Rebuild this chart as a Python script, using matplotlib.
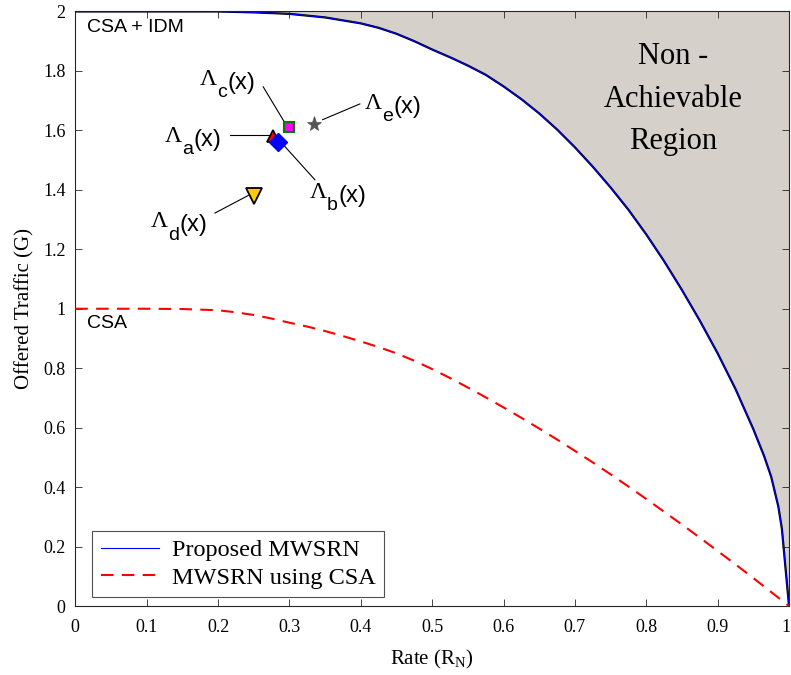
import matplotlib
matplotlib.use("Agg")
import matplotlib.pyplot as plt
from matplotlib.transforms import ScaledTranslation

# ── DATA ────────────────────────────────────────────────────────────────
rate_mwsrn = [0, 0.1, 0.2, 0.25, 0.3, 0.35, 0.4, 0.425, 0.45, 0.475, 0.5,
              0.525, 0.55, 0.575, 0.6, 0.625, 0.65, 0.675, 0.7, 0.725, 0.75,
              0.775, 0.8, 0.825, 0.85, 0.875, 0.9, 0.925, 0.95, 0.965, 0.975,
              0.985, 0.99, 1.0]
traffic_mwsrn = [2.0, 2.0, 2.0, 1.997, 1.992, 1.98, 1.96, 1.945, 1.925, 1.90,
                 1.872, 1.846, 1.818, 1.787, 1.748, 1.705, 1.657, 1.603,
                 1.543, 1.478, 1.408, 1.333, 1.25, 1.16, 1.063, 0.96, 0.85,
                 0.73, 0.595, 0.505, 0.435, 0.335, 0.26, 0.0]

rate_csa = [0, 0.1, 0.15, 0.2, 0.225, 0.25, 0.275, 0.3, 0.325, 0.35, 0.375,
            0.4, 0.425, 0.45, 0.475, 0.5, 0.525, 0.55, 0.575, 0.6, 0.625,
            0.65, 0.675, 0.7, 0.725, 0.75, 0.775, 0.8, 0.825, 0.85, 0.875,
            0.9, 0.925, 0.95, 0.975, 1.0]
traffic_csa = [1.0, 1.0, 0.999, 0.995, 0.988, 0.979, 0.967, 0.953, 0.94,
               0.925, 0.908, 0.89, 0.871, 0.85, 0.825, 0.797, 0.767, 0.735,
               0.702, 0.668, 0.633, 0.597, 0.56, 0.522, 0.483, 0.443, 0.402,
               0.36, 0.317, 0.274, 0.23, 0.185, 0.14, 0.094, 0.047, 0.0]

# operating points Λa..Λe
pt_names = ["a", "b", "c", "d", "e"]
pt_rate = [0.277, 0.284, 0.300, 0.250, 0.335]
pt_traffic = [1.58, 1.56, 1.61, 1.38, 1.62]

# label anchor (Λ baseline-left) and leader line ends
lab_pos = {"a": (0.1256, 1.561), "b": (0.3287, 1.373), "c": (0.1747, 1.754),
           "d": (0.1056, 1.274), "e": (0.4057, 1.672)}
lead = {"a": ((0.2168, 1.586), (0.2727, 1.586)),
        "b": ((0.2913, 1.552), (0.3357, 1.434)),
        "c": ((0.2633, 1.7465), (0.2937, 1.625)),
        "d": ((0.1957, 1.322), (0.2423, 1.381)),
        "e": ((0.3987, 1.689), (0.3465, 1.636))}

# ── STYLE ───────────────────────────────────────────────────────────────
SERIF = ["Liberation Serif", "DejaVu Serif"]
SANS = ["Liberation Sans", "DejaVu Sans"]
plt.rcParams["font.family"] = SERIF
plt.rcParams["mathtext.fontset"] = "custom"
plt.rcParams["mathtext.rm"] = "Liberation Serif"
plt.rcParams["mathtext.sf"] = "Liberation Sans"
plt.rcParams["mathtext.it"] = "Liberation Serif:italic"

fig = plt.figure(figsize=(7.91, 6.75), dpi=100)
ax = fig.add_axes([0.0952, 0.1022, 0.9023, 0.8808])

# non-achievable region
ax.fill_between(rate_mwsrn, traffic_mwsrn, 2, color="#d5d1ca", lw=0, zorder=1)
ax.plot(rate_mwsrn, traffic_mwsrn, color="black", lw=1.6, zorder=2)
ax.plot(rate_mwsrn, traffic_mwsrn, color="#0000ff", lw=0.8, zorder=3,
        label="Proposed MWSRN")
ax.plot(rate_csa, traffic_csa, color="#ff0000", lw=1.5, ls=(0, (6, 4)),
        zorder=3, label="MWSRN using CSA")

# markers
styles = {
    "a": dict(marker="^", mfc="#ff0000", mec="black", ms=8, mew=1.2),
    "b": dict(marker="D", mfc="#0000ff", mec="#0000ff", ms=9, mew=1),
    "c": dict(marker="s", mfc="#ff00ff", mec="#008000", ms=7.5, mew=1.5),
    "d": dict(marker="v", mfc="#ffcc00", mec="black", ms=11, mew=1.3),
    "e": dict(marker="*", mfc="#555555", mec="#555555", ms=11, mew=0.5),
}
for n, r, g in zip(pt_names, pt_rate, pt_traffic):
    ax.plot([r], [g], ls="none", zorder=5, **styles[n])

# Λ labels with leader lines
for n in pt_names:
    (x0, y0), (x1, y1) = lead[n]
    ax.plot([x0, x1], [y0, y1], color="black", lw=0.8, zorder=4)
    bx, by = lab_pos[n]
    ax.annotate("Λ", xy=(bx, by), family=SERIF, fontsize=17,
                ha="left", va="baseline")
    sub = ax.annotate(n, xy=(bx, by), xytext=(12.3, -9),
                      textcoords="offset points", family=SANS, fontsize=14,
                      ha="left", va="baseline")
    ax.annotate("(x)", xy=(1, by), xycoords=(sub, "data"), xytext=(0.6, -3),
                textcoords="offset points", family=SANS, fontsize=17,
                ha="left", va="baseline")

ax.text(0.838, 1.705, "Non -\nAchievable\nRegion", fontsize=22,
        ha="center", va="center", linespacing=1.62)
ax.text(0.017, 1.946, "CSA + IDM", family=SANS, fontsize=14,
        ha="left", va="center")
ax.text(0.017, 0.949, "CSA", family=SANS, fontsize=14,
        ha="left", va="center")

# axes
ax.set_xlim(0, 1)
ax.set_ylim(0, 2)
ax.set_xticks([i / 10 for i in range(11)])
ax.set_xticklabels(["0", "0.1", "0.2", "0.3", "0.4", "0.5", "0.6", "0.7",
                    "0.8", "0.9", "1"])
ax.set_yticks([i / 5 for i in range(11)])
ax.set_yticklabels(["0", "0.2", "0.4", "0.6", "0.8", "1", "1.2", "1.4",
                    "1.6", "1.8", "2"])
ax.tick_params(direction="in", top=True, right=True, length=5, width=0.6,
               color="#262626", labelsize=13)
ax.tick_params(axis="x", pad=9)
ax.tick_params(axis="y", pad=7)
last = ax.get_xticklabels()[-1]
last.set_ha("right")
last.set_transform(last.get_transform()
                   + ScaledTranslation(2 / 100, 0, fig.dpi_scale_trans))
for s in ax.spines.values():
    s.set_color("#262626")
    s.set_linewidth(0.8)
ax.set_xlabel(r"Rate (R$_{\mathrm{N}}$)", fontsize=15, labelpad=9)
ax.set_ylabel("Offered Traffic (G)", fontsize=15, labelpad=6)

leg = ax.legend(loc="lower left", bbox_to_anchor=(0.0234, 0.015),
                fontsize=17.5, frameon=True, fancybox=False,
                edgecolor="#262626", handlelength=2.4, borderpad=0.35,
                labelspacing=0.22, handletextpad=0.55, borderaxespad=0)
leg.get_frame().set_linewidth(0.8)

fig.savefig("out.png", dpi=100)
